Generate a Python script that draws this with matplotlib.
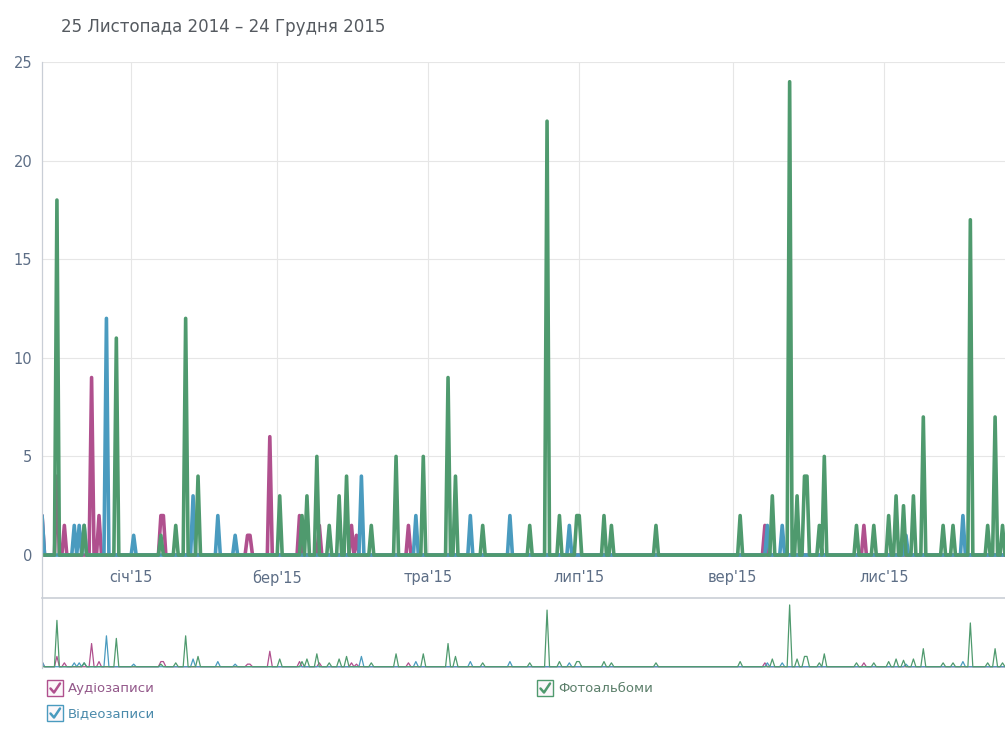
import numpy as np
import pandas as pd
import matplotlib
matplotlib.use('Agg')
import matplotlib.pyplot as plt
import matplotlib.dates as mdates
from matplotlib.lines import Line2D
from matplotlib.patches import Rectangle

plt.rcParams['font.family'] = ['DejaVu Sans']

title = "25 Листопада 2014 – 24 Грудня 2015"
start = '2014-11-25'
end = '2015-12-24'

series_names = ['Аудіозаписи', 'Відеозаписи', 'Фотоальбоми']

audio_dates = ['2014-11-26', '2014-12-02', '2014-12-05', '2014-12-16', '2014-12-19',
               '2015-01-13', '2015-01-14', '2015-02-17', '2015-02-18', '2015-02-26',
               '2015-03-10', '2015-03-18', '2015-03-31', '2015-04-02', '2015-04-23',
               '2015-09-14', '2015-10-24']
audio_values = [2, 4, 1.5, 9, 2, 2, 2, 1, 1, 6, 2, 1.5, 1.5, 1, 1.5, 1.5, 1.5]

video_dates = ['2014-11-26', '2014-12-09', '2014-12-11', '2014-12-13', '2014-12-22',
               '2015-01-02', '2015-01-26', '2015-02-05', '2015-02-12', '2015-04-04',
               '2015-04-26', '2015-05-18', '2015-06-03', '2015-06-27', '2015-09-15',
               '2015-09-21', '2015-11-10', '2015-12-03']
video_values = [2, 1.5, 1.5, 1.5, 12, 1, 3, 2, 1, 4, 2, 2, 2, 1.5, 1.5, 1.5, 1, 2]

photo_dates = ['2014-12-02', '2014-12-13', '2014-12-26', '2015-01-13', '2015-01-19',
               '2015-01-23', '2015-01-28', '2015-03-02', '2015-03-11', '2015-03-13',
               '2015-03-17', '2015-03-22', '2015-03-26', '2015-03-29', '2015-04-08',
               '2015-04-18', '2015-04-29', '2015-05-09', '2015-05-12', '2015-05-23',
               '2015-06-11', '2015-06-18', '2015-06-23', '2015-06-30', '2015-07-01',
               '2015-07-11', '2015-07-14', '2015-08-01', '2015-09-04', '2015-09-17',
               '2015-09-24', '2015-09-27', '2015-09-30', '2015-10-01', '2015-10-06',
               '2015-10-08', '2015-10-21', '2015-10-28', '2015-11-03', '2015-11-06',
               '2015-11-09', '2015-11-13', '2015-11-17', '2015-11-25', '2015-11-29',
               '2015-12-06', '2015-12-13', '2015-12-16', '2015-12-19']
photo_values = [18, 1.5, 11, 1, 1.5, 12, 4, 3, 2, 3,
                5, 1.5, 3, 4, 1.5, 5, 5, 9, 4, 1.5,
                1.5, 22, 2, 2, 2, 2, 1.5, 1.5, 2, 3,
                24, 3, 4, 4, 1.5, 5, 1.5, 1.5, 2, 3,
                2.5, 3, 7, 1.5, 1.5, 17, 1.5, 7, 1.5]

tick_dates = ['2015-01-01', '2015-03-01', '2015-05-01', '2015-07-01', '2015-09-01', '2015-11-01']
tick_labels = ["січ'15", "бер'15", "тра'15", "лип'15", "вер'15", "лис'15"]
y_ticks = [0, 5, 10, 15, 20, 25]

colors = ['#b0508e', '#4a9bbf', '#4f9a6e']
text_colors = ['#93588a', '#4a8aab', '#5b7f6a']

idx = pd.date_range(start, end, freq='D')


def daily(dates, values):
    s = pd.Series(0.0, index=idx)
    s.loc[pd.to_datetime(dates)] = values
    return s


series = [daily(audio_dates, audio_values),
          daily(video_dates, video_values),
          daily(photo_dates, photo_values)]

W, H = 1005, 745
fig = plt.figure(figsize=(W / 100, H / 100), dpi=100)


def fx(x):
    return x / W


def fy(y):
    return 1 - y / H


# main axes
ax = fig.add_axes([fx(42), fy(557), fx(1005) - fx(42), fy(62) - fy(557)])
x0 = mdates.date2num(pd.Timestamp(start))
ax.set_xlim(x0 + 0.97, x0 + 390)
ax.set_ylim(-0.1, 25)
for s, c in zip(series, colors):
    ax.plot(s.index, s.values, color=c, lw=2.6, solid_joinstyle='round',
            solid_capstyle='round', zorder=3)
ax.set_yticks(y_ticks)
ax.set_xticks(pd.to_datetime(tick_dates))
ax.set_xticklabels(tick_labels)
ax.tick_params(axis='both', length=0, labelcolor='#5d6e86', labelsize=10.5)
ax.tick_params(axis='x', pad=9.5)
ax.tick_params(axis='y', pad=7)
ax.grid(True, color='#e6e6e6', lw=0.8, zorder=0)
for sp in ax.spines.values():
    sp.set_visible(False)
ax.set_facecolor('white')

# navigator axes
nav = fig.add_axes([fx(42), fy(668), fx(1005) - fx(42), fy(598) - fy(668)])
nav.set_xlim(ax.get_xlim())
nav.set_ylim(-0.5, 26.7)
for s, c in zip(series, colors):
    nav.plot(s.index, s.values, color=c, lw=0.9, zorder=3)
nav.set_xticks([])
nav.set_yticks([])
for sp in nav.spines.values():
    sp.set_visible(False)

# frame lines
fig.add_artist(Line2D([fx(42), fx(42)], [fy(62), fy(668)], color='#c9ced6', lw=0.9))
fig.add_artist(Line2D([fx(42), fx(1005)], [fy(598), fy(598)], color='#c9ced6', lw=1.2))

# title
fig.text(fx(61), fy(27), title, color='#555a60', fontsize=12, va='center', ha='left')

# legend
legend_pos = [(47, 680), (47, 705), (537, 680)]
for (lx, ly), name, c, tc in zip(legend_pos, series_names, colors, text_colors):
    w, h = 16, 16
    fig.add_artist(Rectangle((fx(lx), fy(ly + h)), fx(w), h / H, transform=fig.transFigure,
                             facecolor='#fbf7fa', edgecolor=c, lw=1.0))
    cx = [fx(lx + 3.5), fx(lx + 7), fx(lx + 13)]
    cy = [fy(ly + 8.5), fy(ly + 12.5), fy(ly + 3.5)]
    fig.add_artist(Line2D(cx, cy, color=c, lw=1.8, solid_joinstyle='round',
                          solid_capstyle='round'))
    fig.text(fx(lx + 21), fy(ly + 8.5), name, color=tc, fontsize=9.5, va='center', ha='left')

fig.savefig('out.png', dpi=100, facecolor='white')
